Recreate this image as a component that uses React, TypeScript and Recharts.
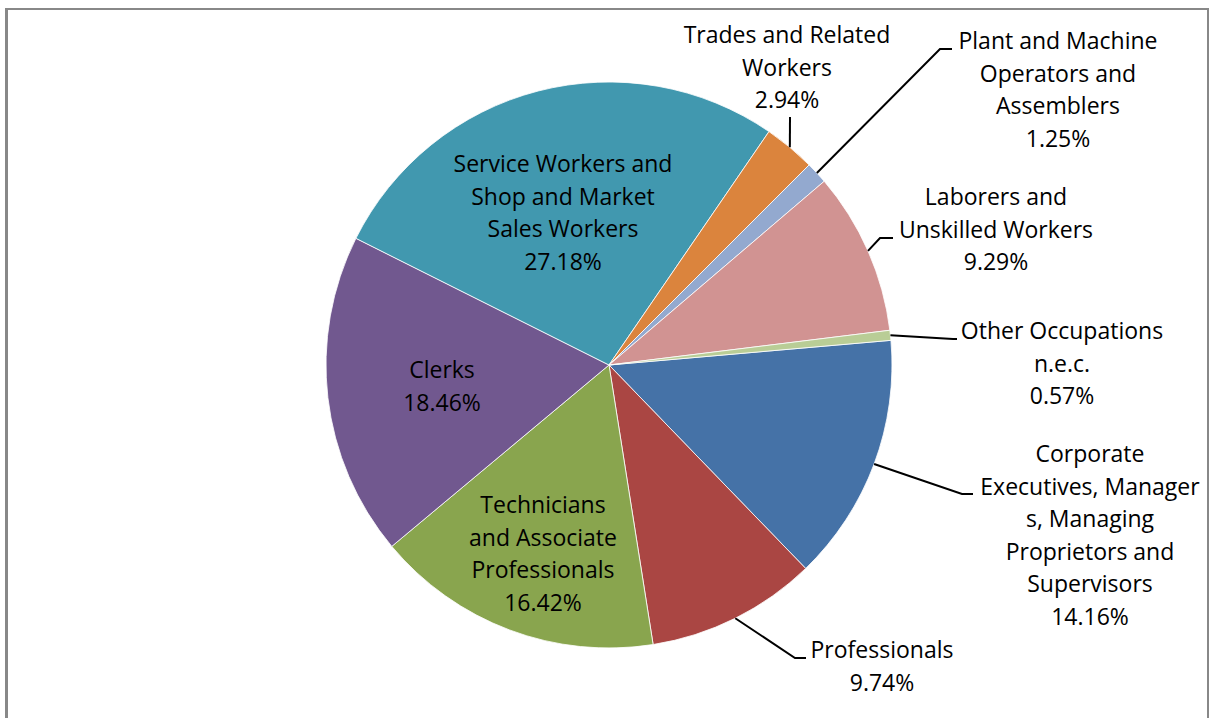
import { Cell, Pie, PieChart } from "recharts";

const occupations = [
  "Corporate Executives, Managers, Managing Proprietors and Supervisors",
  "Professionals",
  "Technicians and Associate Professionals",
  "Clerks",
  "Service Workers and Shop and Market Sales Workers",
  "Trades and Related Workers",
  "Plant and Machine Operators and Assemblers",
  "Laborers and Unskilled Workers",
  "Other Occupations n.e.c.",
];

const shares = [14.16, 9.74, 16.42, 18.46, 27.18, 2.94, 1.25, 9.29, 0.57];

// label text broken the way the original wraps it
const labelLines = [
  ["Corporate", "Executives, Manager", "s, Managing", "Proprietors and", "Supervisors"],
  ["Professionals"],
  ["Technicians", "and Associate", "Professionals"],
  ["Clerks"],
  ["Service Workers and", "Shop and Market", "Sales Workers"],
  ["Trades and Related", "Workers"],
  ["Plant and Machine", "Operators and", "Assemblers"],
  ["Laborers and", "Unskilled Workers"],
  ["Other Occupations", "n.e.c."],
];

const colors = [
  "#4572A7",
  "#AA4643",
  "#89A54E",
  "#71588F",
  "#4198AF",
  "#DB843D",
  "#93A9CF",
  "#D19392",
  "#B9CD96",
];

type LabelSpot = {
  x: number;
  y: number;
  elbow?: [number, number];
  end?: [number, number];
};

// text centre x / first baseline y, plus leader line bend points
const labelSpots: LabelSpot[] = [
  { x: 1090, y: 462, elbow: [962, 494], end: [973, 494] },
  { x: 882, y: 658, elbow: [795, 658], end: [806, 658] },
  { x: 543, y: 513 },
  { x: 442, y: 378 },
  { x: 563, y: 172 },
  { x: 787, y: 43, elbow: [790, 117], end: [790, 117] },
  { x: 1058, y: 49, elbow: [940, 49], end: [952, 49] },
  { x: 996, y: 205, elbow: [880, 238], end: [893, 238] },
  { x: 1062, y: 339, elbow: [953, 339], end: [957, 339] },
];

const data = occupations.map((name, i) => ({ name, value: shares[i] }));

const FONT = "'Open Sans', Lato, sans-serif";
const FONT_SIZE = 23;
const LINE = 32.5;
const RAD = Math.PI / 180;

function renderLabel(props: any) {
  const { cx, cy, midAngle, outerRadius, index } = props;
  const spot = labelSpots[index];
  const lines = [...labelLines[index], `${shares[index].toFixed(2)}%`];

  let leader = null;
  if (spot.elbow && spot.end) {
    const sx = cx + outerRadius * Math.cos(-midAngle * RAD);
    const sy = cy + outerRadius * Math.sin(-midAngle * RAD);
    leader = (
      <path
        d={`M${sx},${sy}L${spot.elbow[0]},${spot.elbow[1]}L${spot.end[0]},${spot.end[1]}`}
        stroke="#000"
        strokeWidth={2}
        fill="none"
      />
    );
  }

  return (
    <g key={`label-${index}`}>
      {leader}
      <text
        x={spot.x}
        y={spot.y}
        textAnchor="middle"
        fontFamily={FONT}
        fontSize={FONT_SIZE}
        fill="#000"
      >
        {lines.map((line, i) => (
          <tspan key={i} x={spot.x} y={spot.y + i * LINE}>
            {line}
          </tspan>
        ))}
      </text>
    </g>
  );
}

export default function App() {
  return (
    <div
      style={{
        position: "absolute",
        left: 0,
        top: 0,
        width: 1210,
        height: 718,
        overflow: "hidden",
        background: "#fff",
      }}
    >
      <div
        style={{
          position: "absolute",
          left: 5,
          top: 8,
          width: 1204,
          height: 760,
          boxSizing: "border-box",
          borderLeft: "3px solid #888",
          borderTop: "2px solid #888",
          borderRight: "2px solid #888",
        }}
      />
      <div style={{ position: "absolute", left: 0, top: 0 }}>
        <PieChart width={1210} height={718} margin={{ top: 0, right: 0, bottom: 0, left: 0 }}>
          <Pie
            data={data}
            dataKey="value"
            nameKey="name"
            cx={609}
            cy={365}
            outerRadius={283}
            startAngle={5}
            endAngle={-355}
            stroke="#fff"
            strokeWidth={0.8}
            label={renderLabel}
            labelLine={false}
            isAnimationActive={false}
          >
            {data.map((d, i) => (
              <Cell key={d.name} fill={colors[i]} />
            ))}
          </Pie>
        </PieChart>
      </div>
    </div>
  );
}
